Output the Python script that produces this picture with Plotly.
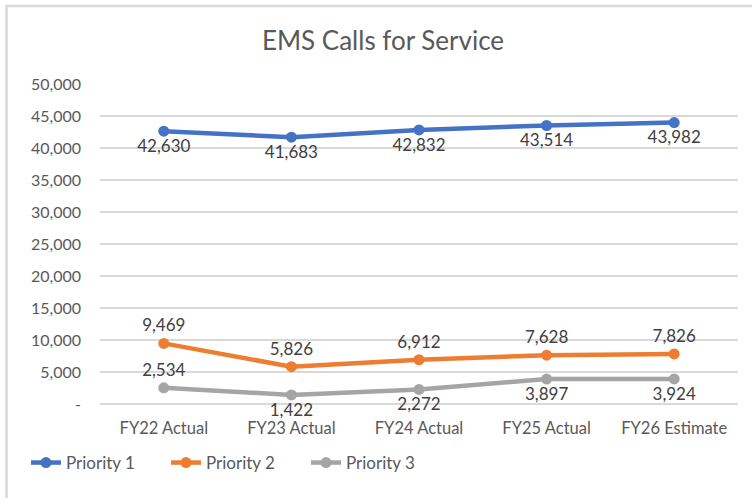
import plotly.graph_objects as go

categories = ["FY22 Actual", "FY23 Actual", "FY24 Actual", "FY25 Actual", "FY26 Estimate"]
priority1 = [42630, 41683, 42832, 43514, 43982]
priority2 = [9469, 5826, 6912, 7628, 7826]
priority3 = [2534, 1422, 2272, 3897, 3924]
y_tickvals = [0, 5000, 10000, 15000, 20000, 25000, 30000, 35000, 40000, 45000, 50000]
y_ticktext = ["-", "5,000", "10,000", "15,000", "20,000", "25,000", "30,000",
              "35,000", "40,000", "45,000", "50,000"]

FONT = "Lato, 'Open Sans', sans-serif"
W, H = 752, 498
ML, MR, MT, MB = 100, 14, 84, 94
PW = W - ML - MR
PH = H - MT - MB


def px_x(px):
    return (px - ML) / PW


def px_y(py):
    return (H - MB - py) / PH


def fmt(v):
    return f"{v:,}"


series = [
    ("Priority 1", priority1, "#4472C4", ["bottom center"] * 5),
    ("Priority 2", priority2, "#ED7D31", ["top center"] * 5),
    ("Priority 3", priority3, "#A5A5A5", ["top center"] + ["bottom center"] * 4),
]

fig = go.Figure()
for name, vals, color, pos in series:
    fig.add_trace(go.Scatter(
        x=categories, y=vals, name=name, mode="lines+markers+text",
        line=dict(color=color, width=4.5),
        marker=dict(color=color, size=11),
        text=[fmt(v) for v in vals], textposition=pos,
        textfont=dict(family=FONT, size=17, color="#404040"),
        cliponaxis=False,
    ))

fig.update_layout(
    width=W, height=H,
    margin=dict(l=ML, r=MR, t=MT, b=MB),
    paper_bgcolor="white", plot_bgcolor="white",
    font=dict(family=FONT, color="#595959"),
    title=dict(text="EMS Calls for Service", xref="container", x=383 / W,
               xanchor="center", yref="container", y=1 - 41 / H, yanchor="middle",
               font=dict(family=FONT, size=26, color="#595959")),
    showlegend=True,
    legend=dict(orientation="h", x=px_x(26), xanchor="left",
                y=px_y(463), yanchor="middle",
                font=dict(family=FONT, size=17, color="#595959"),
                entrywidth=95, itemwidth=30, bgcolor="rgba(0,0,0,0)"),
    shapes=[
        dict(type="line", xref="paper", yref="paper",
             x0=px_x(6.5), x1=px_x(6.5), y0=px_y(5), y1=px_y(498),
             line=dict(color="#d9d9d9", width=2.5)),
        dict(type="line", xref="paper", yref="paper",
             x0=px_x(5.5), x1=px_x(752), y0=px_y(6), y1=px_y(6),
             line=dict(color="#d9d9d9", width=2.5)),
    ],
)

fig.update_xaxes(
    type="category", range=[-0.5, 4.5], showgrid=False, showline=False,
    zeroline=False, ticks="", ticklabelstandoff=12,
    tickfont=dict(family=FONT, size=16.5, color="#595959"),
)
fig.update_yaxes(
    range=[0, 50000], tickvals=y_tickvals, ticktext=y_ticktext,
    showgrid=True, gridcolor="#d9d9d9", gridwidth=1.5,
    zeroline=True, zerolinecolor="#d9d9d9", zerolinewidth=1.5,
    showline=False, ticks="", ticklabelstandoff=18,
    tickfont=dict(family=FONT, size=16, color="#595959"),
)

fig.write_html(
    "out.html",
    config={"displayModeBar": False},
    post_script="document.body.style.margin='0';document.body.style.overflow='hidden';",
)
